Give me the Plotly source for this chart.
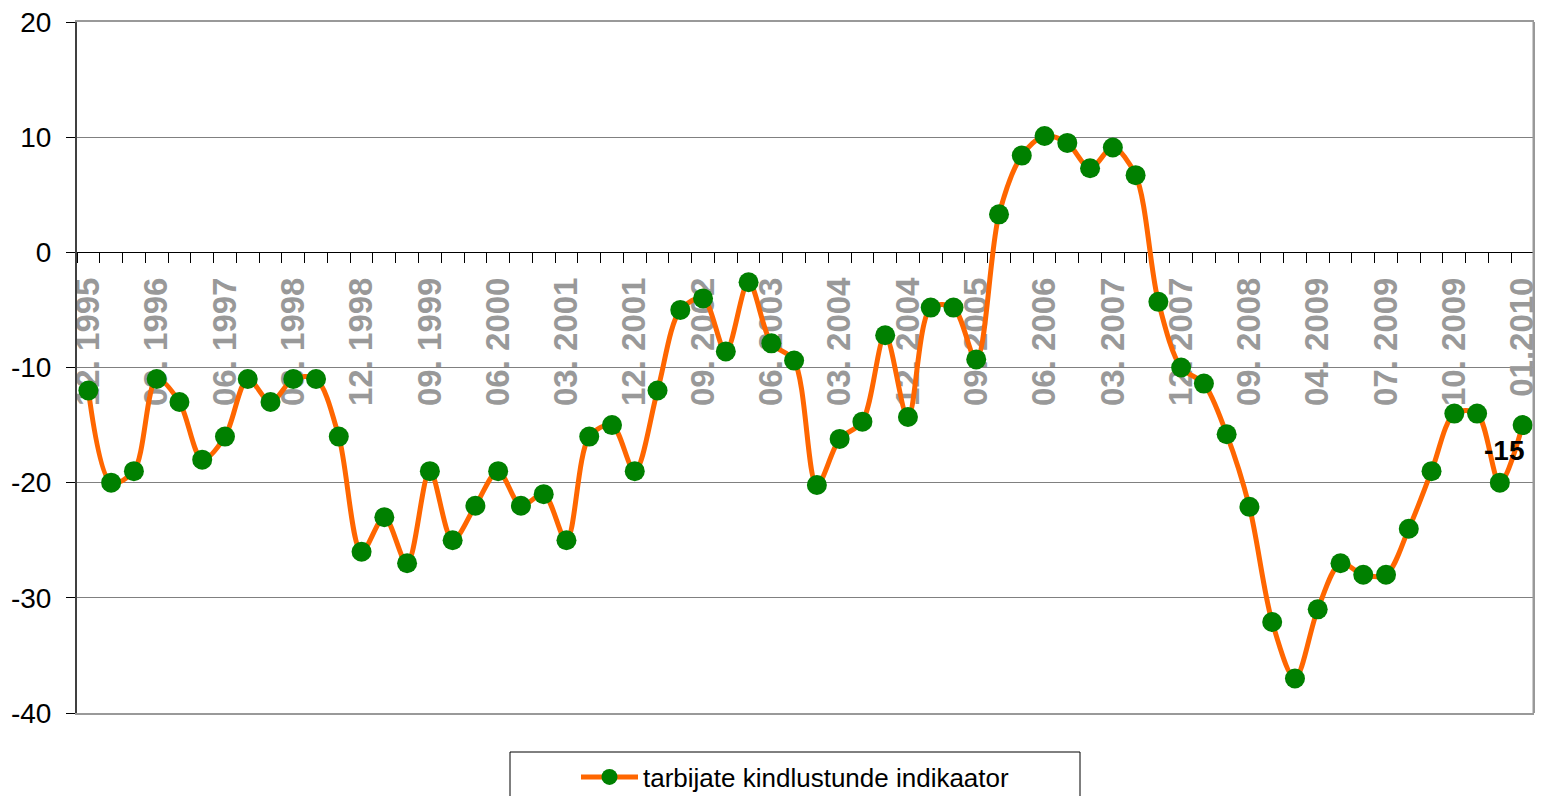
import plotly.graph_objects as go

# ---- data ----
periods = [
    "12. 1995", "03. 1996", "06. 1996", "09. 1996", "12. 1996", "03. 1997", "06. 1997", "09. 1997",
    "12. 1997", "03. 1998", "06. 1998", "09. 1998", "12. 1998", "03. 1999", "06. 1999", "09. 1999",
    "12. 1999", "03. 2000", "06. 2000", "09. 2000", "12. 2000", "03. 2001", "06. 2001", "09. 2001",
    "12. 2001", "03. 2002", "06. 2002", "09. 2002", "12. 2002", "03. 2003", "06. 2003", "09. 2003",
    "12. 2003", "03. 2004", "06. 2004", "09. 2004", "12. 2004", "03. 2005", "06. 2005", "09. 2005",
    "12. 2005", "03. 2006", "06. 2006", "09. 2006", "12. 2006", "03. 2007", "06. 2007", "09. 2007",
    "12. 2007", "03. 2008", "06. 2008", "09. 2008", "12. 2008", "03. 2009", "04. 2009", "05. 2009",
    "06. 2009", "07. 2009", "08. 2009", "09. 2009", "10. 2009", "11. 2009", "12. 2009", "01.2010",
]
values = [
    -12, -20, -19, -11, -13, -18, -16, -11, -13, -11,
    -11, -16, -26, -23, -27, -19, -25, -22, -19, -22,
    -21, -25, -16, -15, -19, -12, -5, -4, -8.6, -2.6,
    -7.9, -9.4, -20.2, -16.2, -14.7, -7.2, -14.3, -4.8, -4.8, -9.3,
    3.3, 8.4, 10.1, 9.5, 7.3, 9.1, 6.7, -4.3, -10, -11.4,
    -15.8, -22.1, -32.1, -37, -31, -27, -28, -28, -24, -19,
    -14, -14, -20, -15,
]
series_name = "tarbijate kindlustunde indikaator"
label_step = 3
y_ticks = [20, 10, 0, -10, -20, -30, -40]
y_tick_text = ["20", "10", "0", "-10", "-20", "-30", "-40"]

idx = list(range(len(periods)))
tick_idx = idx[::label_step]
tick_txt = [periods[i] for i in tick_idx]

FONT = "Liberation Sans, Arial, sans-serif"

# page has an 8px body margin; figure geometry
W, H = 1535, 788
ML, MR, MT, MB = 69, 9, 14, 83
PW, PH = W - ML - MR, H - MT - MB
OFF = 8


def px(sx):
    return (sx - OFF - ML) / PW


def py(sy):
    return (H - MB - (sy - OFF)) / PH


fig = go.Figure()
fig.add_trace(go.Scatter(
    x=idx, y=values, mode="lines+markers", name=series_name,
    line=dict(color="#FF6600", width=5, shape="spline", smoothing=0.9),
    marker=dict(color="#008000", size=20, line=dict(width=0)),
    xaxis="x", yaxis="y",
))
# invisible trace to anchor the zero-line category axis
fig.add_trace(go.Scatter(x=[idx[0], idx[-1]], y=[0, 0], mode="lines",
                         line=dict(width=0), showlegend=False, hoverinfo="skip",
                         xaxis="x2", yaxis="y"))

fig.add_annotation(x=idx[-1], y=values[-1], xref="x", yref="y",
                   text="<b>%d</b>" % values[-1], showarrow=False,
                   xanchor="right", yanchor="middle", xshift=3, yshift=-25,
                   font=dict(family=FONT, size=28, color="black"))

xr = [-0.5, len(periods) - 0.5]
fig.update_layout(
    width=W, height=H,
    margin=dict(l=ML, r=MR, t=MT, b=MB, autoexpand=False),
    paper_bgcolor="white", plot_bgcolor="white",
    showlegend=True,
    legend=dict(x=px(576), y=py(777), xanchor="left", yanchor="middle",
                orientation="h", font=dict(family=FONT, size=26, color="black"),
                bgcolor="rgba(0,0,0,0)", itemwidth=57),
    xaxis=dict(range=xr, showgrid=False, zeroline=False, showticklabels=False,
               ticks="", showline=True, linecolor="#999999", linewidth=2, mirror=True,
               automargin=False),
    xaxis2=dict(range=xr, overlaying="x", anchor="free", position=40 / 60,
                side="bottom", showgrid=False, zeroline=False,
                showline=True, linecolor="black", linewidth=1,
                tickmode="array", tickvals=tick_idx, ticktext=tick_txt,
                ticks="", tickangle=-90, ticklabelstandoff=11, automargin=False,
                ticklabeloverflow="allow",
                tickfont=dict(family=FONT, size=33, color="#999999", weight="bold"),
                minor=dict(tickmode="array", tickvals=[i - 0.5 for i in idx] + [idx[-1] + 0.5],
                           ticks="outside", ticklen=10, tickcolor="black", tickwidth=1,
                           showgrid=False),
                layer="below traces"),
    yaxis=dict(range=[-40, 20], tickmode="array", tickvals=y_ticks, ticktext=y_tick_text,
               showgrid=True, gridcolor="#808080", gridwidth=1, zeroline=False,
               showline=True, linecolor="#404040", linewidth=2,
               ticks="outside", ticklen=9, tickcolor="black", tickwidth=1,
               ticklabelstandoff=9, automargin=False, ticklabeloverflow="allow",
               tickfont=dict(family=FONT, size=28, color="black")),
    shapes=[
        dict(type="line", xref="paper", yref="paper", x0=1, x1=1, y0=0, y1=1,
             line=dict(color="#999999", width=3)),
        dict(type="rect", xref="paper", yref="paper",
             x0=px(510), x1=px(1080), y0=py(752), y1=py(805),
             line=dict(color="black", width=1)),
    ],
)

fig.write_html("out.html")
